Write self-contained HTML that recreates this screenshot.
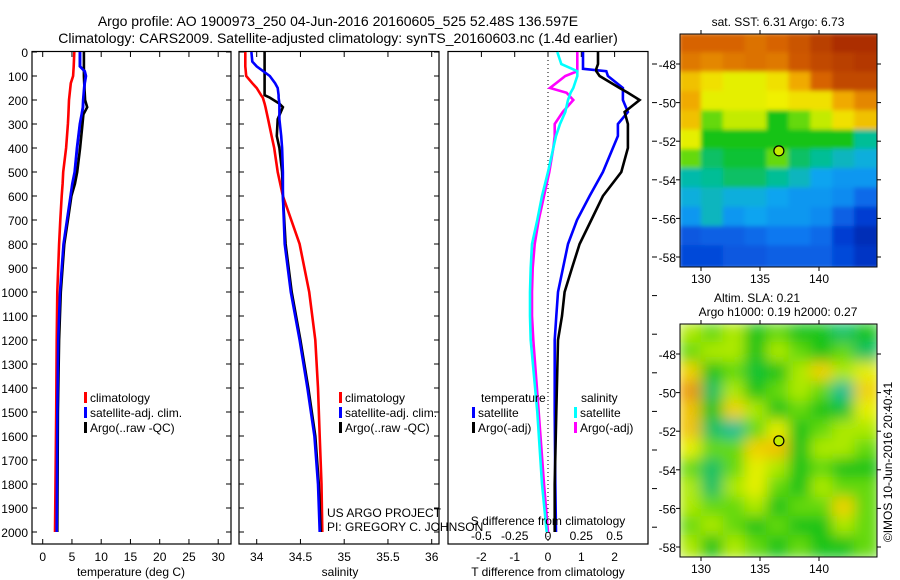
<!DOCTYPE html>
<html><head><meta charset="utf-8"><style>
body{margin:0;background:#fff}
svg{display:block;font-family:"Liberation Sans",sans-serif}
</style></head><body>
<svg id="c" width="900" height="580" viewBox="0 0 900 580">
<g font-size="14" text-anchor="middle">
<text x="338" y="26">Argo profile: AO 1900973_250 04-Jun-2016 20160605_525 52.48S 136.597E</text>
<text x="338" y="43">Climatology: CARS2009. Satellite-adjusted climatology: synTS_20160603.nc (1.4d earlier)</text>
</g>
<g id="plots"></g>
</svg>
<script>
// depth levels (m) shared by profiles
const tDepth=[0,60,80,100,130,200,230,260,300,400,500,550,600,700,800,1000,1200,1500,2000];
const tClim=[5.4,5.3,5.25,5.2,4.8,4.5,4.45,4.4,4.3,4.0,3.5,3.4,3.25,3.0,2.8,2.5,2.4,2.3,2.1];
const tSat=[6.4,6.4,7.2,7.4,7.2,6.95,6.9,6.7,6.4,5.9,5.5,5.1,4.8,4.2,3.6,3.0,2.7,2.55,2.45];
const tArgo=[7.05,7.05,7.05,7.05,7.1,7.25,7.6,6.95,6.8,6.4,5.9,5.5,4.9,4.3,3.7,3.1,2.8,2.6,2.5];
const sDepth=[0,40,60,100,130,150,180,190,215,230,280,350,400,500,600,800,1000,1200,1400,1600,1800,2000];
const sClim=[33.87,33.87,33.87,33.88,33.95,34.0,34.05,34.07,34.09,34.1,34.13,34.17,34.2,34.24,34.3,34.49,34.6,34.67,34.7,34.72,34.74,34.75];
const sSat=[33.94,33.95,34.0,34.15,34.21,34.24,34.25,34.25,34.26,34.26,34.26,34.28,34.29,34.3,34.3,34.32,34.39,34.49,34.58,34.66,34.7,34.72];
const sArgo=[34.09,34.09,34.09,34.09,34.09,34.09,34.09,34.15,34.26,34.3,34.24,34.23,34.26,34.29,34.3,34.33,34.4,34.5,34.59,34.67,34.71,34.73];
const dDepth=[0,50,70,80,100,150,170,200,250,300,350,400,500,600,700,800,900,1000,1100,1200,1500,1800,2000];
const dTsat=[1.05,1.05,1.05,1.75,1.8,2.25,2.25,2.25,2.4,2.1,2.1,1.95,1.65,1.25,0.87,0.6,0.45,0.3,0.25,0.2,0.2,0.22,0.24];
const dTargo=[1.5,1.5,1.45,1.45,1.55,2.15,2.4,2.75,2.3,2.4,2.4,2.4,2.2,1.65,1.3,0.95,0.72,0.5,0.42,0.3,0.25,0.2,0.2];
const dSsat=[0.07,0.1,0.18,0.22,0.22,0.19,0.17,0.15,0.13,0.09,0.06,0.04,0,-0.045,-0.08,-0.12,-0.13,-0.135,-0.135,-0.13,-0.08,-0.045,-0.01];
const dSargo=[0.22,0.22,0.22,0.22,0.13,0.015,0.14,0.19,0.11,0.05,0.05,0.04,0.01,-0.03,-0.07,-0.1,-0.115,-0.12,-0.12,-0.11,-0.07,-0.03,0];
const depthTicks=[0,100,200,300,400,500,600,700,800,900,1000,1100,1200,1300,1400,1500,1600,1700,1800,1900,2000];
const tTicks=[0,5,10,15,20,25,30];
const sTicks=[34,34.5,35,35.5,36];
const dTticks=[-2,-1,0,1,2];
const dSticks=[-0.5,-0.25,0,0.25,0.5];
const dSlabels=["-0.5","-0.25","0","0.25","0.5"];
// maps: rows lat -47..-58, cols lon ~128.3..145 (9 cols), value 0..1 on colormap
const sstGrid=[
[0.85,0.85,0.85,0.83,0.85,0.88,0.92,0.95,0.95],
[0.82,0.8,0.82,0.83,0.82,0.87,0.9,0.92,0.93],
[0.72,0.68,0.65,0.65,0.68,0.75,0.85,0.9,0.9],
[0.75,0.65,0.65,0.65,0.66,0.68,0.68,0.75,0.8],
[0.72,0.55,0.62,0.62,0.5,0.55,0.62,0.68,0.72],
[0.65,0.5,0.5,0.5,0.5,0.5,0.5,0.5,0.42],
[0.55,0.45,0.48,0.48,0.55,0.45,0.42,0.38,0.35],
[0.4,0.42,0.45,0.45,0.42,0.38,0.32,0.3,0.3],
[0.35,0.38,0.35,0.35,0.32,0.3,0.3,0.28,0.22],
[0.3,0.38,0.3,0.32,0.3,0.3,0.28,0.2,0.12],
[0.18,0.2,0.2,0.22,0.25,0.25,0.22,0.12,0.08],
[0.15,0.15,0.18,0.18,0.2,0.2,0.2,0.15,0.1]];
const slaGrid=[
[.6,.55,.6,.5,.55,.5,.5,.45,.5],
[.55,.6,.6,.5,.6,.55,.5,.55,.45],
[.7,.5,.55,.48,.5,.6,.7,.6,.65],
[.78,.45,.6,.5,.55,.6,.55,.42,.7],
[.72,.5,.7,.6,.5,.55,.5,.48,.65],
[.72,.45,.42,.55,.65,.5,.55,.6,.6],
[.65,.55,.55,.7,.72,.5,.6,.6,.55],
[.55,.45,.55,.65,.6,.5,.55,.5,.5],
[.6,.45,.6,.65,.55,.5,.6,.55,.55],
[.6,.55,.55,.6,.5,.55,.55,.7,.55],
[.55,.6,.55,.5,.55,.5,.5,.6,.55],
[.6,.5,.6,.55,.5,.55,.5,.5,.55]];
const latTicks=[-48,-50,-52,-54,-56,-58];
const lonTicks=[130,135,140];
const argoLon=136.6, argoLat=-52.5;

const NS="http://www.w3.org/2000/svg";
const root=document.getElementById('plots');
function mk(tag,attrs,parent){const e=document.createElementNS(NS,tag);for(const k in attrs)e.setAttribute(k,attrs[k]);(parent||root).appendChild(e);return e;}
function txt(x,y,s,size,anchor,parent){const e=mk('text',{x:x,y:y,'font-size':size,'text-anchor':anchor},parent);e.textContent=s;return e;}
const Y0=52, YS=0.24;
const yD=d=>Y0+d*YS;
const BOT=544;

function panel(name,x0,x1){
  const g=mk('g',{});
  
  
  const r=mk('rect',{x:x0,y:Y0-0.5,width:x1-x0,height:BOT-Y0+0.5,fill:'none',stroke:'#000','stroke-width':1.2},g);
  
  
  return g;
}
function profile(g,xf,vals,deps,color,name){
  let d='';
  for(let i=0;i<vals.length;i++){const x=xf(vals[i]).toFixed(1),y=yD(deps[i]).toFixed(1);d+=(i?'L':'M')+x+' '+y;}
  const p=mk('path',{d:d,fill:'none',stroke:color,'stroke-width':2.6,'stroke-linejoin':'miter'},g);
  
  
}
function xticks(g,xf,ticks,labels){
  ticks.forEach((t,i)=>{const x=xf(t);
    mk('line',{x1:x,x2:x,y1:Y0,y2:Y0+5,stroke:'#000'},g);
    mk('line',{x1:x,x2:x,y1:BOT,y2:BOT-5,stroke:'#000'},g);
    const l=txt(x,561,labels?labels[i]:String(t),12,'middle',g);
    
    
  });
}
function legend(g,x,y,color,label){
  mk('rect',{x:x,y:y-10,width:3,height:11,fill:color},g);
  const l=txt(x+6,y,label,12,'start',g);
  
  
}

// Panel 1 temperature
const p1=panel('temperature-panel',32,231);
const xT=t=>42.7+t*5.85;
depthTicks.forEach(d=>{const y=yD(d);
  mk('line',{x1:32,x2:37,y1:y,y2:y,stroke:'#000'},p1);
  mk('line',{x1:231,x2:226,y1:y,y2:y,stroke:'#000'},p1);
  const l=txt(28,y+5,String(d),12,'end',p1);
  
  
});
xticks(p1,xT,tTicks,null);
profile(p1,xT,tClim,tDepth,'#f00','temp-climatology-line');
profile(p1,xT,tSat,tDepth,'#00f','temp-satellite-line');
profile(p1,xT,tArgo,tDepth,'#000','temp-argo-line');
profile(p1,xT,tSat.map(v=>v-0.05),tDepth,'#00f','temp-satellite-line-overlay');
legend(p1,84,402,'#f00','climatology');
legend(p1,84,417,'#00f','satellite-adj. clim.');
legend(p1,84,432,'#000','Argo(..raw -QC)');
const a1=txt(131,576,'temperature (deg C)',12,'middle',p1);



// Panel 2 salinity
const p2=panel('salinity-panel',239,439);
const xS=s=>256.7+(s-34)*87.5;
depthTicks.forEach(d=>{const y=yD(d);
  mk('line',{x1:239,x2:244,y1:y,y2:y,stroke:'#000'},p2);
  mk('line',{x1:439,x2:434,y1:y,y2:y,stroke:'#000'},p2);});
xticks(p2,xS,sTicks,null);
profile(p2,xS,sClim,sDepth,'#f00','sal-climatology-line');
profile(p2,xS,sArgo,sDepth,'#000','sal-argo-line');
profile(p2,xS,sSat,sDepth,'#00f','sal-satellite-line');
legend(p2,339,402,'#f00','climatology');
legend(p2,339,417,'#00f','satellite-adj. clim.');
legend(p2,339,432,'#000','Argo(..raw -QC)');
const a2=txt(340,576,'salinity',12,'middle',p2);


const c1=txt(327,517,'US ARGO PROJECT',12,'start',p2);


const c2=txt(327,531,'PI: GREGORY C. JOHNSON',12,'start',p2);



// Panel 3 differences
const p3=panel('difference-panel',448,648);
const xDT=t=>548+t*33.3;
const xDS=s=>548+s*133.2;
mk('line',{x1:548,x2:548,y1:Y0,y2:BOT,stroke:'#000','stroke-dasharray':'1,3'},p3);
dTticks.forEach(t=>{const x=xDT(t);
  mk('line',{x1:x,x2:x,y1:Y0,y2:Y0+5,stroke:'#000'},p3);
  const l=txt(x,561,String(t),12,'middle',p3);
  
  });
dSticks.forEach((s,i)=>{const x=xDS(s);
  const l=txt(x,540,dSlabels[i],12,'middle',p3);
  
  });
for(let y=64;y<550;y+=38.6){mk('line',{x1:652,x2:657,y1:y,y2:y,stroke:'#000'},p3);}
profile(p3,xDS,dSargo,dDepth,'#f0f','sal-diff-argo-line');
profile(p3,xDS,dSsat,dDepth,'#0ff','sal-diff-satellite-line');
profile(p3,xDT,dTsat,dDepth,'#00f','temp-diff-satellite-line');
profile(p3,xDT,dTargo,dDepth,'#000','temp-diff-argo-line');
const h1=txt(481,402,'temperature',12,'start',p3);


const h2=txt(581,402,'salinity',12,'start',p3);


legend(p3,472,417,'#00f','satellite');
legend(p3,472,432,'#000','Argo(-adj)');
legend(p3,574,417,'#0ff','satellite');
legend(p3,574,432,'#f0f','Argo(-adj)');
const a3=txt(548,525,'S difference from climatology',12,'middle',p3);


const a4=txt(548,576,'T difference from climatology',12,'middle',p3);



// colormap
const stops=[[0,[0,16,130]],[0.12,[0,60,210]],[0.25,[16,120,240]],[0.33,[16,170,240]],[0.42,[0,190,150]],[0.5,[20,195,20]],[0.58,[150,230,0]],[0.66,[240,240,0]],[0.75,[240,170,0]],[0.85,[215,100,0]],[1,[150,20,0]]];
function cmap(v){for(let i=1;i<stops.length;i++){if(v<=stops[i][0]){const a=stops[i-1],b=stops[i];const f=(v-a[0])/(b[0]-a[0]);const c=a[1].map((x,j)=>Math.round(x+(b[1][j]-x)*f));return 'rgb('+c+')';}}return 'rgb('+stops[stops.length-1][1]+')';}

function map(name,grid,top,bot,blur,labs){
  const g=mk('g',{});
  
  
  const X0=680,X1=877;
  const lonX=l=>701+(l-130)*11.8;
  const latY=l=>top+30+(-48-l)*19.3;
  const id=name+'-clip';
  const cp=mk('clipPath',{id:id},g);mk('rect',{x:X0,y:top,width:X1-X0,height:bot-top},cp);
  const fid=name+'-blur';
  const f=mk('filter',{id:fid,x:'-10%',y:'-10%',width:'120%',height:'120%'},g);mk('feGaussianBlur',{stdDeviation:blur},f);
  const inner=mk('g',{'clip-path':'url(#'+id+')'},g);
  const cells=mk('g',{filter:'url(#'+fid+')'},inner);
  const nr=grid.length,nc=grid[0].length;
  const lon0=128.3,lon1=145.0,dl=(lon1-lon0)/nc;
  for(let r=0;r<nr;r++)for(let c=0;c<nc;c++){
    const x=lonX(lon0+c*dl)-2,y=latY(-46.5-r)-2;
    const cell=mk('rect',{x:x,y:y,width:lonX(lon0+dl)-lonX(lon0)+4,height:19.3+4,fill:cmap(grid[r][c])},cells);
    
    
  }
  mk('rect',{x:X0,y:top,width:X1-X0,height:bot-top,fill:'none',stroke:'#000','stroke-width':1},g);
  latTicks.forEach(l=>{const y=latY(l);
    mk('line',{x1:X0-4,x2:X0,y1:y,y2:y,stroke:'#000'},g);
    mk('line',{x1:X1,x2:X1+4,y1:y,y2:y,stroke:'#000'},g);
    const t=txt(X0-4,y+5,String(l),12,'end',g);
    
    });
  lonTicks.forEach(l=>{const x=lonX(l);
    mk('line',{x1:x,x2:x,y1:top-4,y2:top,stroke:'#000'},g);
    mk('line',{x1:x,x2:x,y1:bot,y2:bot+4,stroke:'#000'},g);
    const t=txt(x,bot+16,String(l),12,'middle',g);
    
    });
  const m=mk('circle',{cx:lonX(argoLon),cy:latY(argoLat),r:5,fill:cmap(0.62),stroke:'#000','stroke-width':1.2},g);
  
  
  labs.forEach(L=>{const t=txt(L[0],L[1],L[2],12,'middle',g);
    
    });
}
map('sst-map',sstGrid,34,267,2,[[778,26,'sat. SST: 6.31  Argo: 6.73']]);
map('sla-map',slaGrid,324,557,7,[[757,302,'Altim. SLA: 0.21'],[778,316,'Argo h1000: 0.19 h2000: 0.27']]);
const cr=mk('text',{x:0,y:0,'font-size':12,'text-anchor':'middle',transform:'translate(892,462) rotate(-90)'});
cr.textContent='©IMOS 10-Jun-2016 20:40:41';


</script>
</body></html>
